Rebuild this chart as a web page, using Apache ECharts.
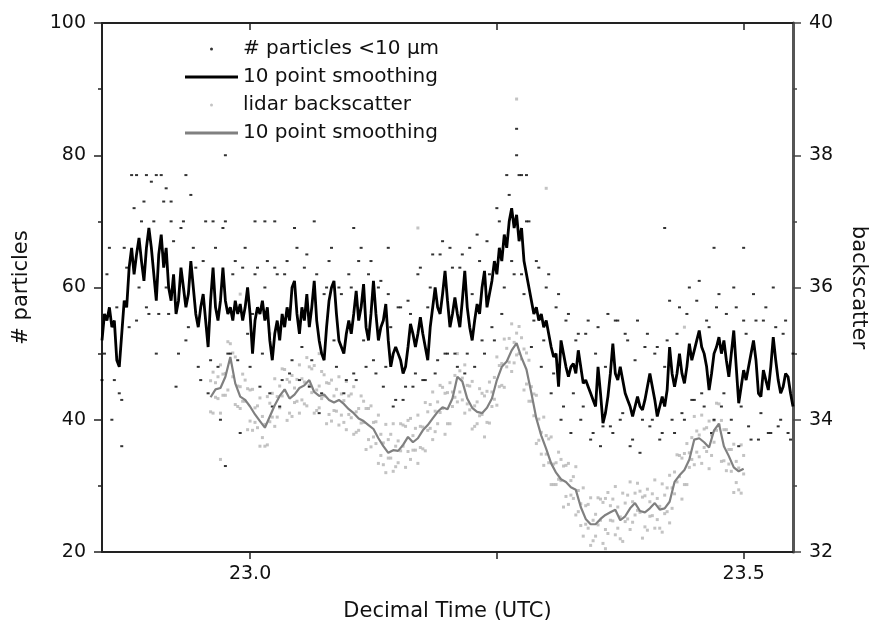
<!DOCTYPE html>
<html>
<head>
<meta charset="utf-8">
<script src="https://cdn.jsdelivr.net/npm/echarts@6/dist/echarts.min.js"></script>
<style>html,body{margin:0;padding:0;background:#fff}#c{width:869px;height:631px}</style>
</head>
<body>
<div id="c"></div>
<script>
// ---- data ----
// 10-point smoothed particle count, sampled every 0.0025 h from 22.85 h
const particleSmoothStart = 22.85, particleSmoothStep = 0.0025;
const particleSmooth = [
52,56,55,57,54,55,49,48,53,58,57,63,
66,62,65,67.5,64,61,66,69,66,62,58,65,68,63,66,60,58,62,56,58,63,60,57,59,64,60,56,54,57,
59,55,51,58,63,57,55,58,63,58,56,57,55,58,56,57.5,55,57,60,56,50,55,57,56,58,55,57,52,49,53,55,52,56,54,57,55,60,
61,56,53,57,55,59,54,57,61,55,52,50,49,54,58,60,61,56,52,51,
50,53,55,53,56,59.5,55,57,60.5,54,52,56,61,56,52,54,55,57.5,52,48,50,51,50,49,47,48,51,54.5,
53,51,53,55.5,53,51,49,54,57,60,57,56,59,62.5,58,54,56,58.5,56,54,58,62.5,57,54,52,55,57.5,56,60,62.5,57,59,
61,64,62,66,64,68,66,70,72,69,71,67,69,64,62,60,
58,56,57,55,56,54,55,53,51,49.5,50,45,52,
50,48,46.5,48,48.5,47,50.5,48,45.5,46,45,44,43,42,48,44,39.5,41,43.5,47,51.5,47,46,48,46,44,43,42,40.5,42,43.5,42,
41.5,43,45,47,45,43,40.5,42,43.5,42,44.5,51,47,45,47,50,47,45.5,48,51.5,49,50.5,52,53.5,51,
50,48,44.5,47,50,51,52.5,50,52,49,46.5,50,53.5,48,42.5,45,47.5,46,48,50,52,49,44,43.5,47.5,46,44.5,48,52.5,49,46,44,45,47,46.5,44,42
];
// raw particle counts (<10 um), every 0.005 h from 22.85 h
const particleRawStart = 22.85, particleRawStep = 0.005;
const particleRaw = [
46,62,40,57,43,63,77,55,70,57,
76,50,77,60,70,45,69,52,74,63,
46,70,49,66,40,70,50,64,38,66,
48,62,45,60,44,63,42,62,47,69,
46,63,45,70,41,59,64,52,60,44,
62,47,64,52,62,49,60,45,59,42,
57,43,58,45,62,46,57,65,49,67,
50,63,48,65,50,59,68,52,67,54,
72,56,77,64,80,62,70,51,64,48,
60,44,57,40,55,38,52,40,53,37,
50,36,48,39,55,40,53,36,49,35,
51,39,50,37,48,58,38,57,40,60,
43,61,42,54,40,59,44,38,60,36,
55,39,59,37,55,38,60,39,53,38,
50
];
// second set of raw particle counts, every 0.005 h from 22.8525 h
const particleRaw2Start = 22.8525, particleRaw2Step = 0.005;
const particleRaw2 = [
50,66,46,44,66,54,72,60,73,56,
70,56,73,56,67,50,70,54,66,48,
64,44,70,48,69,50,62,49,63,53,
56,63,50,64,42,62,46,64,49,66,
51,65,49,62,44,60,66,48,59,46,
60,46,66,48,64,47,61,48,54,43,
57,45,56,47,63,46,60,47,65,50,
66,50,63,47,66,48,64,50,62,52,
70,60,74,62,77,59,70,55,63,52,
62,47,59,42,56,44,53,42,55,38,
54,39,56,38,55,41,52,37,55,40,
53,40,51,38,52,40,53,41,56,43,
58,44,55,38,57,42,56,40,57,42,
53,37,55,41,57,38,54,40,55,37
];
const particleExtraTimes  = [22.885,22.895,22.905,22.915,22.92,22.935,22.975,23.005,23.015,23.025,23.27,23.275,23.28,23.105,23.14,23.42,23.47,23.5,22.87,22.975];
const particleExtraCounts = [77,77,77,75,73,77,80,70,70,70,84,77,77,69,66,69,66,66,36,33];

// 10-point smoothed lidar backscatter, every 0.005 h from 22.96 h
const lidarSmoothStart = 22.96, lidarSmoothStep = 0.005;
const lidarSmooth = [
34.34,34.46,34.48,34.65,34.95,34.55,34.35,34.30,34.20,34.08,
33.98,33.88,34.05,34.22,34.36,34.46,34.32,34.38,34.48,34.52,
34.60,34.42,34.36,34.38,34.30,34.26,34.30,34.24,34.16,34.10,
34.02,33.98,33.92,33.86,33.72,33.60,33.50,33.54,33.53,33.62,
33.74,33.66,33.72,33.84,33.92,34.02,34.12,34.19,34.16,34.32,
34.65,34.58,34.32,34.18,34.12,34.10,34.18,34.32,34.60,34.80,
34.88,35.05,35.16,34.94,34.76,34.40,34.02,33.76,33.56,33.34,
33.20,33.10,33.06,32.98,32.94,32.68,32.50,32.42,32.42,32.50,
32.56,32.60,32.64,32.48,32.54,32.66,32.74,32.62,32.60,32.66,
32.74,32.64,32.66,32.76,33.06,33.16,33.24,33.40,33.70,33.72,
33.66,33.58,33.84,33.94,33.60,33.45,33.28,33.22,33.26
];
// raw lidar backscatter (two passes), every 0.0025 h from 22.96 h
const lidarRawStart = 22.96, lidarRawStep = 0.0025;
const lidarRaw = [
34.59,34.10,34.56,34.32,34.83,34.37,34.70,34.45,35.15,34.65,34.95,34.20,34.50,34.28,34.60,33.85,
34.45,33.84,34.18,33.88,34.33,33.73,33.93,33.62,34.25,34.04,34.62,34.04,34.51,34.36,34.76,33.99,
34.57,34.05,34.48,34.28,34.83,34.30,34.57,34.21,34.80,34.41,34.82,34.14,34.51,34.32,34.68,33.94,
34.55,33.98,34.36,34.13,34.65,34.07,34.29,33.85,34.36,34.03,34.50,33.81,34.17,33.95,34.28,33.55,
34.17,33.59,33.96,33.64,34.07,33.46,33.65,33.20,33.70,33.42,33.94,33.29,33.68,33.53,33.92,33.28,
33.99,33.40,33.76,33.54,34.07,33.58,33.89,33.53,34.12,33.87,34.42,33.82,34.27,34.11,34.49,33.78,
34.41,33.94,34.42,34.34,35.00,34.42,34.63,34.10,34.52,34.15,34.58,33.90,34.27,34.06,34.40,33.74,
34.43,33.95,34.42,34.31,34.95,34.50,34.85,34.49,35.08,34.87,35.45,34.86,35.31,35.00,35.24,34.45,
35.01,34.28,34.50,34.06,34.37,33.69,33.81,33.31,33.76,33.35,33.74,33.02,33.35,33.10,33.40,32.68,
33.31,32.72,33.08,32.81,33.29,32.61,32.73,32.24,32.70,32.36,32.82,32.17,32.57,32.41,32.80,32.13,
32.81,32.28,32.70,32.47,32.99,32.36,32.53,32.16,32.74,32.50,33.06,32.45,32.89,32.63,32.92,32.21,
32.85,32.33,32.76,32.55,33.09,32.49,32.69,32.30,32.86,32.61,33.16,32.66,33.21,33.06,33.46,32.80,
33.49,33.02,33.50,33.40,34.05,33.51,33.77,33.34,33.86,33.52,33.98,33.46,33.99,33.84,34.24,33.37,
33.85,33.23,33.55,33.22,33.63,33.05,33.27,32.89,33.46
];
const lidarRaw2 = [
34.12,34.72,34.34,34.65,34.10,34.69,34.37,35.18,34.87,35.01,34.23,34.51,34.17,34.69,34.28,34.47,
33.98,34.46,33.96,34.21,33.60,34.05,33.60,34.35,33.97,34.40,33.90,34.35,34.18,34.77,34.44,34.61,
34.10,34.67,34.26,34.61,34.10,34.62,34.24,34.94,34.52,34.77,34.10,34.45,34.18,34.73,34.36,34.56,
34.08,34.60,34.14,34.46,33.92,34.39,33.96,34.58,34.08,34.39,33.78,34.12,33.84,34.36,33.96,34.17,
33.70,34.21,33.74,33.97,33.34,33.78,33.32,33.93,33.42,33.78,33.22,33.60,33.35,33.94,33.60,33.90,
33.52,34.02,33.54,33.87,33.34,33.90,33.56,34.26,33.84,34.23,33.70,34.13,33.94,34.52,34.17,34.40,
33.94,34.56,34.20,34.67,34.27,34.74,34.30,34.83,34.24,34.51,33.86,34.21,33.94,34.47,34.08,34.36,
33.96,34.57,34.20,34.64,34.22,34.82,34.52,35.22,34.80,35.23,34.73,35.17,34.98,35.41,34.92,35.07,
34.54,34.90,34.28,34.39,33.64,34.01,33.48,34.04,33.48,33.71,33.02,33.33,33.02,33.51,33.08,33.30,
32.84,33.34,32.86,33.14,32.56,32.93,32.40,32.97,32.42,32.72,32.10,32.48,32.24,32.82,32.48,32.75,
32.34,32.90,32.48,32.80,32.26,32.68,32.20,32.89,32.46,32.86,32.34,32.76,32.56,33.04,32.60,32.83,
32.38,32.95,32.54,32.88,32.36,32.81,32.36,33.03,32.58,32.97,32.44,32.97,32.88,33.47,33.14,33.42,
33.02,33.64,33.28,33.73,33.32,33.83,33.44,34.07,33.58,33.88,33.26,33.77,33.66,34.25,33.92,33.99,
33.38,33.85,33.33,33.55,32.90,33.37,32.94,33.62,33.18
];
const lidarExtraTimes  = [22.99,23.02,23.11,23.27,23.30,23.17,23.44,23.36,22.97,23.07];
const lidarExtraValues = [35.9,35.3,35.6,38.85,37.5,36.9,35.4,32.05,33.4,35.0];

const xTickValues  = [23.0, 23.25, 23.5];
const xLabelValues = [23.0, 23.5];

// ---- build series data ----
function series(start, step, vals) {
  return vals.map((v, i) => [+(start + i * step).toFixed(5), v]);
}
function pairs(ts, vs) { return ts.map((t, i) => [t, vs[i]]); }

const FONT = 'DejaVu Sans';
const INK = '#111';

const chart = echarts.init(document.getElementById('c'), null, {renderer: 'canvas'});
const xCommon = {
  type: 'value', min: 22.85, max: 23.55,
  splitLine: {show: false},
  axisLine: {show: true, onZero: false, lineStyle: {color: '#222', width: 2}},
};
chart.setOption({
  backgroundColor: '#fff',
  animation: false,
  textStyle: {fontFamily: FONT},
  grid: {left: 102, right: 76, top: 23, bottom: 79, containLabel: false, outerBoundsMode: 'none'},
  legend: {
    orient: 'vertical', left: 185, top: 39, padding: 0,
    itemWidth: 53, itemHeight: 3, itemGap: 8,
    textStyle: {fontFamily: FONT, fontSize: 20, color: INK, lineHeight: 20},
    data: [
      {name: '# particles <10 \u00b5m', icon: 'circle'},
      {name: '10 point smoothing', icon: 'rect'},
      {name: 'lidar backscatter', icon: 'circle'},
      {name: '10 point smoothing ', icon: 'rect'}
    ]
  },
  xAxis: [
    Object.assign({}, xCommon, {
      position: 'bottom',
      name: 'Decimal Time (UTC)', nameLocation: 'middle', nameGap: 49,
      nameTextStyle: {fontFamily: FONT, fontSize: 21, color: INK},
      axisTick: {show: true, inside: false, length: 7, customValues: xTickValues, lineStyle: {color: '#222', width: 1.5}},
      axisLabel: {show: true, customValues: xLabelValues, formatter: v => (+v).toFixed(1), fontFamily: FONT, fontSize: 19, color: INK, margin: 13}
    }),
    Object.assign({}, xCommon, {
      position: 'top',
      axisTick: {show: true, inside: true, length: 7, customValues: xTickValues, lineStyle: {color: '#222', width: 1.5}},
      axisLabel: {show: false}
    })
  ],
  yAxis: [
    {
      type: 'value', position: 'left', min: 20, max: 100, interval: 20,
      name: '# particles', nameLocation: 'middle', nameGap: 70,
      nameTextStyle: {fontFamily: FONT, fontSize: 21, color: INK},
      splitLine: {show: false},
      axisLine: {show: true, lineStyle: {color: '#222', width: 2}},
      axisTick: {show: true, inside: false, length: 8, lineStyle: {color: '#222', width: 1.5}},
      minorTick: {show: true, splitNumber: 2, length: 4, lineStyle: {color: '#222', width: 1.5}},
      axisLabel: {fontFamily: FONT, fontSize: 19, color: INK, margin: 16}
    },
    {
      type: 'value', position: 'right', min: 32, max: 40, interval: 2,
      name: 'backscatter', nameLocation: 'middle', nameGap: 55, nameRotate: -90,
      nameTextStyle: {fontFamily: FONT, fontSize: 21, color: INK},
      splitLine: {show: false},
      axisLine: {show: true, lineStyle: {color: '#555', width: 3}},
      axisTick: {show: true, inside: false, length: 8, lineStyle: {color: '#444', width: 1.5}},
      minorTick: {show: true, splitNumber: 2, length: 4, lineStyle: {color: '#444', width: 1.5}},
      axisLabel: {fontFamily: FONT, fontSize: 19, color: INK, margin: 16}
    }
  ],
  series: [
    {
      name: 'lidar backscatter', type: 'scatter', xAxisIndex: 0, yAxisIndex: 1, z: 1,
      symbol: 'rect', symbolSize: 3,
      itemStyle: {color: '#b4b4b4'},
      data: series(lidarRawStart, lidarRawStep, lidarRaw)
        .concat(series(lidarRawStart, lidarRawStep, lidarRaw2))
        .concat(pairs(lidarExtraTimes, lidarExtraValues))
    },
    {
      name: '# particles <10 \u00b5m', type: 'scatter', xAxisIndex: 0, yAxisIndex: 0, z: 2,
      symbol: 'rect', symbolSize: [3, 2],
      itemStyle: {color: '#000'},
      data: series(particleRawStart, particleRawStep, particleRaw)
        .concat(series(particleRaw2Start, particleRaw2Step, particleRaw2))
        .concat(pairs(particleExtraTimes, particleExtraCounts))
    },
    {
      name: '10 point smoothing ', type: 'line', xAxisIndex: 0, yAxisIndex: 1, z: 3,
      showSymbol: false, symbol: 'none',
      lineStyle: {color: '#808080', width: 2.2},
      itemStyle: {color: '#808080'},
      data: series(lidarSmoothStart, lidarSmoothStep, lidarSmooth)
    },
    {
      name: '10 point smoothing', type: 'line', xAxisIndex: 0, yAxisIndex: 0, z: 4,
      showSymbol: false, symbol: 'none',
      lineStyle: {color: '#000', width: 2.8},
      itemStyle: {color: '#000'},
      data: series(particleSmoothStart, particleSmoothStep, particleSmooth)
    }
  ]
});
</script>
</body>
</html>
